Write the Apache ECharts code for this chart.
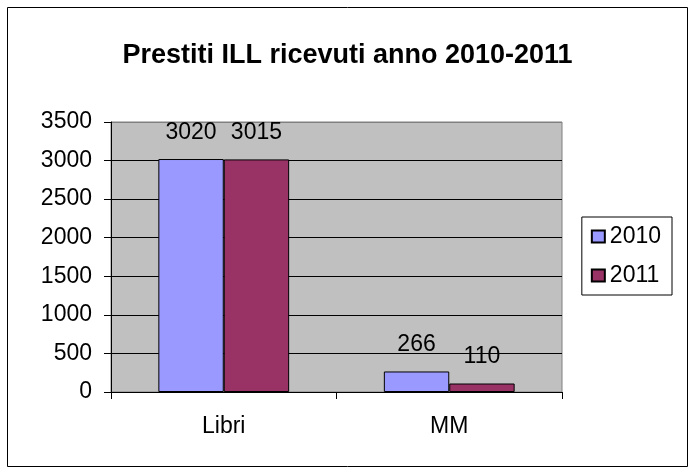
<!DOCTYPE html>
<html>
<head>
<meta charset="utf-8">
<script src="https://cdn.jsdelivr.net/npm/echarts@6/dist/echarts.min.js"></script>
<style>html,body{margin:0;padding:0;background:#fff}#c{width:695px;height:474px}</style>
</head>
<body>
<div id="c"></div>
<script>
var categories = ['Libri', 'MM'];
var seriesNames = ['2010', '2011'];
var values2010 = [3020, 266];
var values2011 = [3015, 110];
var titleText = 'Prestiti ILL ricevuti anno 2010-2011';

var chart = echarts.init(document.getElementById('c'));
var font = '"Liberation Sans", Arial, sans-serif';
var fs = 23;
var labelCfg = {show: true, position: 'top', distance: 15, color: '#000', fontSize: fs, fontFamily: font};
chart.setOption({
  animation: false,
  textStyle: {fontFamily: font},
  graphic: [{type: 'rect', shape: {x: 7.5, y: 7.5, width: 680, height: 459}, style: {fill: 'none', stroke: '#000', lineWidth: 1}, silent: true, z: -1}],
  title: {text: titleText, left: 'center', top: 37, textStyle: {fontSize: 27, fontWeight: 'bold', color: '#000', fontFamily: font}},
  grid: {left: 111, right: 133, top: 122, bottom: 82, show: true, backgroundColor: '#c0c0c0', borderColor: '#808080', borderWidth: 1},
  legend: {
    orient: 'vertical', right: 23, top: 217, itemWidth: 13, itemHeight: 12, itemGap: 16,
    padding: [8, 11, 8, 9], borderColor: '#000', borderWidth: 1,
    textStyle: {fontSize: fs, color: '#000', fontFamily: font},
    data: seriesNames.map(function (n) { return {name: n, icon: 'rect'}; })
  },
  xAxis: {
    type: 'category', data: categories,
    axisLine: {lineStyle: {color: '#000'}},
    axisTick: {show: true, length: 7, lineStyle: {color: '#000'}},
    axisLabel: {color: '#000', fontSize: fs, margin: 23, fontFamily: font}
  },
  yAxis: {
    type: 'value', min: 0, max: 3500, interval: 500,
    axisLine: {show: true, lineStyle: {color: '#000'}},
    axisTick: {show: true, length: 7, lineStyle: {color: '#000'}},
    axisLabel: {color: '#000', fontSize: fs, margin: 19, fontFamily: font, formatter: function (v) { return String(v); }},
    splitLine: {lineStyle: {color: ['#000', '#000', '#000', '#000', '#000', '#000', '#000', '#808080']}}
  },
  series: [
    {name: seriesNames[0], type: 'bar', data: values2010, barGap: '0%', barCategoryGap: '42%',
     itemStyle: {color: '#9999ff', borderColor: '#000', borderWidth: 1}, label: labelCfg},
    {name: seriesNames[1], type: 'bar', data: values2011,
     itemStyle: {color: '#993366', borderColor: '#000', borderWidth: 1}, label: labelCfg}
  ]
});
</script>
</body>
</html>
